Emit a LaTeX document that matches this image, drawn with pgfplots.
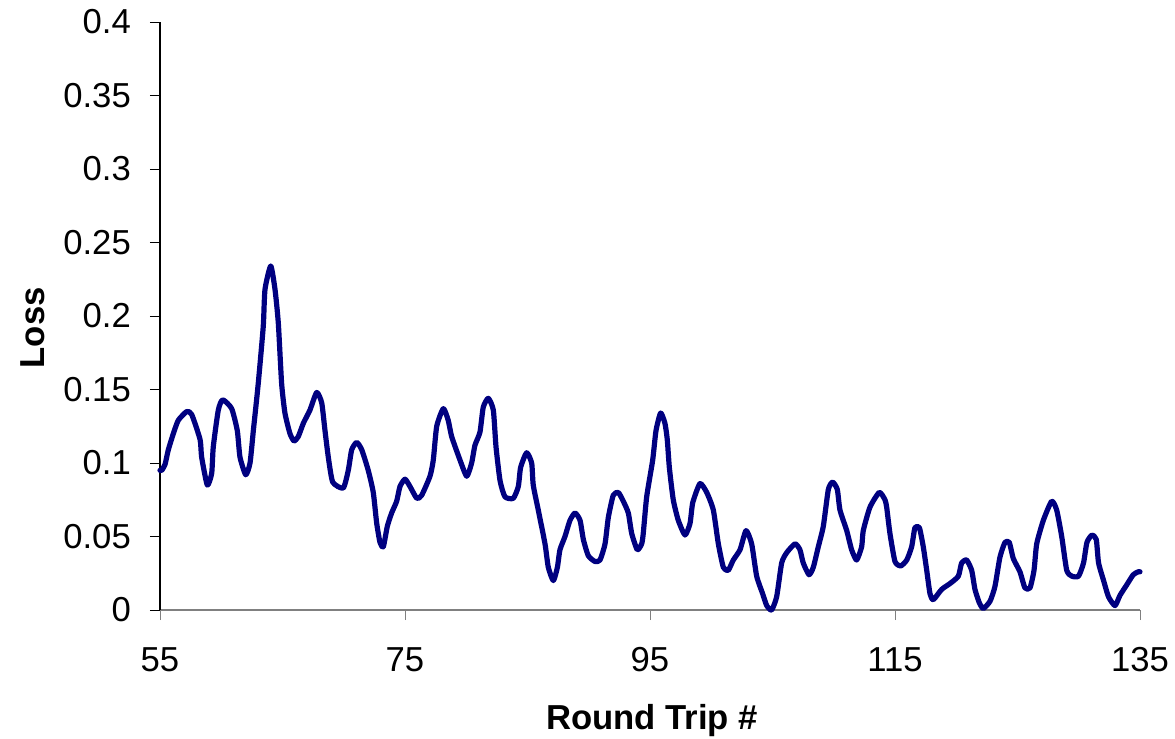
\documentclass[border=0pt]{standalone}
\usepackage{pgfplots}
\pgfplotsset{compat=1.18}
\usepackage{fontspec}
\setmainfont{Liberation Sans}
\definecolor{navyline}{RGB}{0,0,128}
\begin{document}
\begin{tikzpicture}
\useasboundingbox (-60pt,-48.375pt) rectangle (380.625pt,228.75pt);
\begin{axis}[
  scale only axis,
  width=367.5pt, height=220.5pt,
  xmin=55, xmax=135, ymin=0, ymax=0.4,
  xtick={55,75,95,115,135},
  ytick={0,0.05,0.1,0.15,0.2,0.25,0.3,0.35,0.4},
  yticklabels={0,0.05,0.1,0.15,0.2,0.25,0.3,0.35,0.4},
  axis lines*=left,
  axis line style={-},
  tick align=outside,
  major tick length=3.75pt,
  x axis line style={draw=gray},
  xtick style={draw=gray},
  ytick style={draw=black},
  y axis line style={draw=black},
  /pgf/number format/assume math mode=true,
  tick label style={font=\fontsize{13}{15}\selectfont},
  yticklabel style={anchor=east, inner sep=0pt, xshift=-7pt},
  xticklabel style={anchor=north, inner sep=0pt, yshift=-10pt},
  xlabel={Round Trip \#},
  ylabel={Loss},
  label style={font=\fontsize{13}{15}\selectfont\bfseries},
  xlabel style={at={(axis description cs:0.502,-0.188)}, anchor=center},
  ylabel style={at={(axis description cs:-0.1296,0.48)}, anchor=center, rotate=0},
  clip=false,
]
\addplot[navyline, line width=1.95pt, line join=round, line cap=round, smooth, tension=0.35] coordinates {
(55,0.095) (55.14,0.095) (55.41,0.099) (55.68,0.109) (56.09,0.120) (56.49,0.129)
(57.18,0.135) (57.59,0.133) (58.27,0.116) (58.40,0.104) (58.86,0.085) (59.22,0.093)
(59.35,0.111) (59.76,0.136) (60.12,0.143) (60.85,0.137) (61.31,0.122) (61.53,0.104)
(62.00,0.092) (62.35,0.100) (62.62,0.122) (63.02,0.154) (63.43,0.193) (63.57,0.218)
(64.04,0.234) (64.39,0.218) (64.66,0.195) (64.93,0.154) (65.20,0.134) (65.61,0.120)
(65.94,0.115) (66.29,0.118) (66.70,0.127) (67.24,0.136) (67.79,0.148) (68.20,0.141)
(68.47,0.122) (68.74,0.104) (69.10,0.087) (69.96,0.083) (70.37,0.095) (70.65,0.109)
(71.06,0.114) (71.47,0.109) (72.00,0.095) (72.41,0.080) (72.69,0.059) (72.96,0.046)
(73.23,0.043) (73.56,0.057) (73.91,0.066) (74.32,0.074) (74.59,0.084) (75.00,0.089)
(75.41,0.084) (75.96,0.076) (76.36,0.078) (77.04,0.091) (77.31,0.102) (77.59,0.125)
(78.13,0.137) (78.53,0.129) (78.81,0.118) (79.49,0.102) (80.04,0.091) (80.44,0.100)
(80.71,0.112) (81.12,0.121) (81.39,0.138) (81.80,0.144) (82.21,0.136) (82.43,0.111)
(82.76,0.088) (83.16,0.077) (83.84,0.076) (84.25,0.084) (84.44,0.097) (84.93,0.107)
(85.34,0.100) (85.47,0.085) (85.88,0.068) (86.43,0.045) (86.70,0.029) (87.11,0.020)
(87.44,0.029) (87.65,0.041) (88.06,0.050) (88.47,0.061) (88.88,0.066) (89.29,0.061)
(89.56,0.048) (89.96,0.037) (90.51,0.033) (90.92,0.034) (91.33,0.045) (91.60,0.063)
(92.00,0.078) (92.41,0.080) (92.82,0.074) (93.23,0.066) (93.51,0.052) (93.96,0.041)
(94.32,0.045) (94.45,0.052) (94.73,0.077) (95.22,0.102) (95.49,0.122) (95.87,0.134)
(96.22,0.127) (96.41,0.116) (96.58,0.097) (96.90,0.075) (97.31,0.061) (97.86,0.051)
(98.27,0.059) (98.49,0.073) (99.08,0.086) (99.63,0.080) (100.17,0.068) (100.58,0.045)
(100.99,0.029) (101.39,0.027) (101.80,0.034) (102.35,0.041) (102.84,0.054) (103.30,0.045)
(103.71,0.023) (104.20,0.011) (104.53,0.003) (104.93,0.000) (105.34,0.009) (105.75,0.032)
(106.16,0.039) (106.84,0.045) (107.24,0.041) (107.51,0.032) (107.98,0.024) (108.33,0.029)
(108.74,0.043) (109.15,0.057) (109.56,0.082) (109.91,0.087) (110.29,0.082) (110.51,0.068)
(111.06,0.054) (111.46,0.041) (111.87,0.034) (112.28,0.043) (112.41,0.054) (112.96,0.070)
(113.72,0.080) (114.18,0.075) (114.32,0.070) (114.59,0.052) (115.00,0.033) (115.47,0.030)
(115.96,0.034) (116.36,0.043) (116.63,0.056) (116.99,0.056) (117.31,0.043) (117.59,0.027)
(117.86,0.011) (118.13,0.007) (118.81,0.014) (119.49,0.018) (120.17,0.023) (120.44,0.032)
(120.85,0.034) (121.26,0.027) (121.53,0.014) (121.88,0.005) (122.21,0.001) (122.76,0.006)
(123.16,0.016) (123.57,0.036) (123.98,0.046) (124.33,0.046) (124.66,0.035) (125.20,0.026)
(125.61,0.015) (126.02,0.015) (126.35,0.027) (126.57,0.045) (127.11,0.061) (127.79,0.074)
(128.20,0.068) (128.61,0.050) (129.02,0.027) (129.44,0.023) (129.98,0.023) (130.39,0.032)
(130.67,0.046) (131.08,0.051) (131.43,0.048) (131.62,0.032) (132.03,0.020) (132.43,0.009)
(132.96,0.003) (133.37,0.010) (133.91,0.017) (134.45,0.024) (134.86,0.026) (135,0.026)
};
\end{axis}
\end{tikzpicture}
\end{document}
